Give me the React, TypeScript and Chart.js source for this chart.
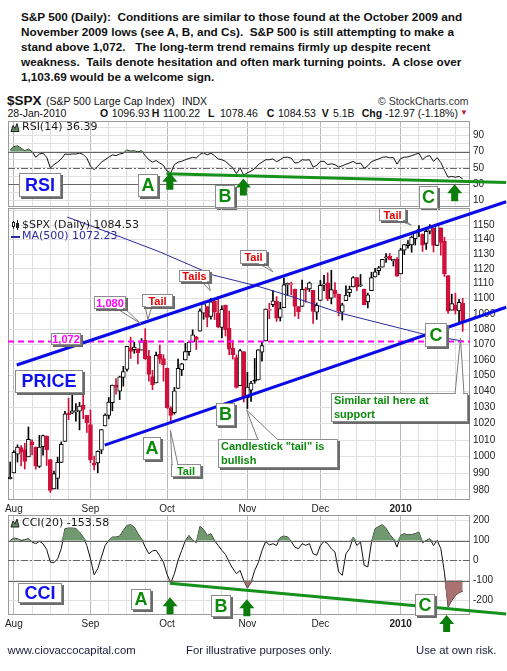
import React, { useEffect, useRef } from 'react';
import { Chart, registerables } from 'chart.js';

Chart.register(...registerables);

const SANS = '"Liberation Sans", Arial, Helvetica, sans-serif';
const DEJAVU = '"DejaVu Sans", Verdana, sans-serif';

const RED = '#d0103a';
const TXT_RED = '#e00000';
const GREEN = '#0b8a0b';
const LINE_GREEN = '#14921c';
const BLUE = '#1010f0';
const TREND_BLUE = '#0a0ae8';
const MAGENTA = '#ff00ff';
const MA_BLUE = '#2a2a9e';
const RSI_FILL = 'rgba(100,143,100,0.95)';
const CCI_UP_FILL = 'rgba(104,148,104,0.95)';
const CCI_DN_FILL = 'rgba(166,104,104,0.95)';

// ---------------- data ----------------
const dates: string[] = [
  '2009-07-31',
  '2009-08-03', '2009-08-04', '2009-08-05', '2009-08-06', '2009-08-07', '2009-08-10', '2009-08-11', '2009-08-12', '2009-08-13', '2009-08-14',
  '2009-08-17', '2009-08-18', '2009-08-19', '2009-08-20', '2009-08-21', '2009-08-24', '2009-08-25', '2009-08-26', '2009-08-27', '2009-08-28', '2009-08-31',
  '2009-09-01', '2009-09-02', '2009-09-03', '2009-09-04', '2009-09-08', '2009-09-09', '2009-09-10', '2009-09-11', '2009-09-14', '2009-09-15',
  '2009-09-16', '2009-09-17', '2009-09-18', '2009-09-21', '2009-09-22', '2009-09-23', '2009-09-24', '2009-09-25', '2009-09-28', '2009-09-29', '2009-09-30',
  '2009-10-01', '2009-10-02', '2009-10-05', '2009-10-06', '2009-10-07', '2009-10-08', '2009-10-09', '2009-10-12', '2009-10-13', '2009-10-14', '2009-10-15',
  '2009-10-16', '2009-10-19', '2009-10-20', '2009-10-21', '2009-10-22', '2009-10-23', '2009-10-26', '2009-10-27', '2009-10-28', '2009-10-29', '2009-10-30',
  '2009-11-02', '2009-11-03', '2009-11-04', '2009-11-05', '2009-11-06', '2009-11-09', '2009-11-10', '2009-11-11', '2009-11-12', '2009-11-13',
  '2009-11-16', '2009-11-17', '2009-11-18', '2009-11-19', '2009-11-20', '2009-11-23', '2009-11-24', '2009-11-25', '2009-11-27', '2009-11-30',
  '2009-12-01', '2009-12-02', '2009-12-03', '2009-12-04', '2009-12-07', '2009-12-08', '2009-12-09', '2009-12-10', '2009-12-11', '2009-12-14', '2009-12-15',
  '2009-12-16', '2009-12-17', '2009-12-18', '2009-12-21', '2009-12-22', '2009-12-23', '2009-12-24', '2009-12-28', '2009-12-29', '2009-12-30', '2009-12-31',
  '2010-01-04', '2010-01-05', '2010-01-06', '2010-01-07', '2010-01-08', '2010-01-11', '2010-01-12', '2010-01-13', '2010-01-14', '2010-01-15',
  '2010-01-19', '2010-01-20', '2010-01-21', '2010-01-22', '2010-01-25', '2010-01-26', '2010-01-27', '2010-01-28',
];

const opens: number[] = [
  986.8, 990.2, 1001.4, 1005.4, 1004.1, 999.8, 1008.9, 1005.8, 994.0, 1005.9,
  1012.2, 998.2, 980.6, 986.9, 996.4, 1009.1, 1026.6, 1026.6, 1027.4, 1027.8,
  1031.6, 1025.2, 1019.5, 996.1, 996.1, 1003.8, 1018.7, 1025.1, 1033.0, 1043.9,
  1040.2, 1049.0, 1054.0, 1067.9, 1066.6, 1067.1, 1066.4, 1072.7, 1062.6, 1049.5,
  1045.4, 1063.7, 1061.0, 1054.9, 1029.7, 1026.9, 1042.0, 1053.7, 1060.0, 1065.3,
  1071.6, 1075.0, 1078.7, 1090.4, 1094.7, 1088.2, 1098.6, 1090.4, 1081.0, 1095.6,
  1080.4, 1067.5, 1061.5, 1043.7, 1065.4, 1036.2, 1040.9, 1047.3, 1047.3, 1065.0,
  1072.3, 1092.2, 1096.0, 1098.3, 1087.6, 1094.1, 1109.2, 1109.4, 1106.4, 1094.7,
  1094.9, 1106.5, 1106.5, 1105.5, 1091.1, 1098.9, 1109.0, 1110.6, 1100.4, 1105.5,
  1103.0, 1091.1, 1098.7, 1104.0, 1107.8, 1114.1, 1108.6, 1106.4, 1097.9, 1105.3,
  1114.5, 1118.8, 1121.1, 1127.5, 1128.6, 1125.5, 1126.6, 1116.6, 1132.7, 1135.7,
  1136.3, 1140.5, 1146.0, 1143.8, 1137.3, 1145.7, 1147.7, 1136.0, 1148.0, 1138.7,
  1115.5, 1092.4, 1095.8, 1091.9, 1096.93,
];

const highs: number[] = [
  996.7, 1003.6, 1007.1, 1006.6, 1008.0, 1018.0, 1010.1, 1005.8, 1012.8, 1013.1,
  1012.6, 998.2, 991.2, 999.6, 1008.9, 1027.6, 1035.8, 1037.8, 1032.5, 1033.3,
  1039.5, 1025.2, 1028.5, 1000.3, 1003.4, 1016.5, 1026.1, 1036.3, 1044.1, 1048.2,
  1049.7, 1056.0, 1068.8, 1074.8, 1071.5, 1067.3, 1073.8, 1080.2, 1066.3, 1053.5,
  1065.1, 1069.6, 1063.4, 1054.9, 1030.6, 1042.6, 1060.6, 1058.0, 1070.7, 1071.5,
  1079.5, 1075.3, 1093.2, 1096.6, 1094.7, 1100.2, 1098.6, 1101.4, 1095.2, 1095.8,
  1091.8, 1072.5, 1063.3, 1066.8, 1065.4, 1052.2, 1046.4, 1061.0, 1066.7, 1071.5,
  1093.2, 1097.0, 1105.4, 1101.4, 1097.6, 1113.7, 1110.5, 1111.1, 1106.4, 1094.7,
  1112.4, 1107.6, 1111.2, 1105.5, 1097.2, 1112.3, 1115.6, 1117.3, 1119.1, 1110.7,
  1103.0, 1097.0, 1108.5, 1108.4, 1114.8, 1114.1, 1116.2, 1106.4, 1103.7, 1117.7,
  1120.3, 1121.6, 1126.5, 1130.4, 1130.4, 1126.4, 1127.6, 1133.9, 1136.6, 1139.2,
  1142.5, 1145.4, 1149.7, 1143.8, 1148.4, 1150.4, 1147.8, 1150.5, 1148.0, 1141.6,
  1115.5, 1103.0, 1103.7, 1099.5, 1100.22,
];

const lows: number[] = [
  986.5, 990.2, 996.7, 994.3, 992.5, 999.8, 1001.0, 992.4, 993.4, 1000.8,
  994.6, 978.5, 980.6, 980.6, 996.4, 1009.1, 1022.5, 1026.2, 1021.6, 1016.2,
  1023.1, 1014.6, 996.3, 992.0, 990.2, 1001.7, 1018.7, 1023.0, 1028.0, 1038.4,
  1035.0, 1043.4, 1052.9, 1061.0, 1064.3, 1057.5, 1066.4, 1060.4, 1046.5, 1041.2,
  1045.4, 1057.8, 1046.5, 1029.5, 1020.0, 1025.9, 1042.0, 1050.1, 1060.0, 1063.0,
  1071.6, 1066.7, 1078.7, 1086.4, 1081.5, 1086.5, 1086.2, 1080.8, 1074.3, 1075.5,
  1063.3, 1060.6, 1042.2, 1043.7, 1033.4, 1029.4, 1033.9, 1045.2, 1047.3, 1059.3,
  1072.3, 1086.8, 1094.7, 1085.0, 1085.3, 1094.1, 1102.2, 1102.7, 1088.4, 1086.8,
  1094.9, 1097.6, 1104.8, 1083.7, 1086.3, 1098.9, 1105.3, 1098.7, 1096.5, 1100.8,
  1088.6, 1085.9, 1098.7, 1101.3, 1107.8, 1105.4, 1108.0, 1095.9, 1093.9, 1105.3,
  1114.5, 1116.0, 1121.1, 1124.4, 1126.2, 1121.9, 1114.8, 1116.6, 1129.7, 1134.0,
  1131.3, 1136.2, 1142.0, 1131.8, 1133.2, 1143.8, 1131.4, 1135.8, 1129.3, 1114.8,
  1090.2, 1092.4, 1089.9, 1083.1, 1078.46,
];

const closes: number[] = [
  987.5, 1002.6, 1005.7, 1002.7, 997.1, 1010.5, 1007.1, 994.4, 1005.8, 1012.7,
  1004.1, 979.7, 989.7, 996.5, 1007.4, 1026.1, 1025.6, 1028.0, 1028.1, 1031.0,
  1028.9, 1020.6, 998.0, 994.8, 1003.2, 1016.4, 1025.4, 1033.4, 1044.1, 1042.7,
  1049.3, 1052.6, 1068.8, 1065.5, 1068.3, 1064.7, 1071.7, 1060.9, 1050.8, 1044.4,
  1063.0, 1060.6, 1057.1, 1029.9, 1025.2, 1040.5, 1054.7, 1057.6, 1065.5, 1071.5,
  1076.2, 1073.2, 1092.0, 1096.6, 1087.7, 1097.9, 1091.1, 1081.4, 1092.9, 1079.6,
  1067.0, 1063.4, 1042.6, 1066.1, 1036.2, 1042.9, 1045.4, 1046.5, 1066.6, 1069.3,
  1093.1, 1093.0, 1098.5, 1087.2, 1093.5, 1109.3, 1110.3, 1109.8, 1094.9, 1091.4,
  1106.2, 1105.7, 1110.6, 1091.5, 1095.6, 1108.9, 1109.2, 1099.9, 1106.0, 1103.3,
  1091.9, 1096.0, 1102.4, 1106.4, 1114.1, 1107.9, 1109.2, 1096.1, 1102.5, 1114.1,
  1118.0, 1120.6, 1126.5, 1127.8, 1126.2, 1126.4, 1115.1, 1133.0, 1136.5, 1137.1,
  1141.7, 1145.0, 1147.0, 1136.2, 1145.7, 1148.5, 1136.0, 1150.2, 1138.0, 1116.5,
  1091.8, 1096.8, 1092.2, 1097.5, 1084.53,
];

// MA(500) at a few x positions (trading-day index)
const maIdx: number[] = [15.6, 27.4, 41.1, 55.6, 67.6, 77.5, 90.4, 106.8, 114.2, 124];
const maVal: number[] = [1155.6, 1144.5, 1131.4, 1115.8, 1108.5, 1101.1, 1090.5, 1080.6, 1076.1, 1072.23];

const rsi14: number[] = [
  72, 76, 77, 74, 71, 73, 70, 63, 67, 68,
  63, 50, 54, 57, 61, 67, 66.5, 67, 67, 68,
  66.5, 62, 52, 48, 52, 57, 60, 63, 66, 65,
  67, 68, 72, 70.5, 71, 69.5, 71, 65, 60, 57,
  59, 56, 53, 46, 44, 54, 57, 58, 60, 61.5,
  63, 62, 66.5, 68.5, 66, 68, 65, 61, 60, 58,
  54, 50, 43, 50, 41, 44, 46, 49, 54, 57,
  60, 60, 61, 57.5, 60, 63, 63, 62, 56, 56.5,
  60, 59.5, 60, 51, 53, 58, 58, 54, 55, 54,
  51, 52.5, 54.5, 56, 58, 55, 56, 49.5, 52.5, 57.5,
  59.5, 61, 63, 63.5, 62.5, 62.5, 54.5, 61.5, 63, 63.5,
  65, 66.5, 68, 60, 64, 65, 58, 62.5, 56.5, 47,
  38.5, 39.5, 38.5, 39.5, 36.39,
];

const cci20: number[] = [
  100, 112, 109, 100, 104, 109, 92, 84, 96, 84,
  55, -8, -11, 9, 59, 159, 162, 162, 160, 142,
  117, 75, 8, -71, -41, 17, 75, 100, 117, 117,
  122, 150, 175, 179, 167, 134, 108, 67, 34, 48,
  51, 22, -8, -70, -112, -66, 1, 50, 100, 125,
  100, 90, 170, 155, 125, 134, 100, 75, 51, 30,
  -8, -40, -66, -50, -100, -138, -110, -50, -10, 50,
  95, 78, 84, 75, 115, 122, 118, 95, 67, 59,
  84, 76, 84, 34, 26, 75, 96, 84, 59, 42,
  -57, -74, 34, 59, 117, 75, 92, -24, -32, 92,
  159, 170, 179, 160, 130, 110, 67, 125, 134, 128,
  130, 134, 142, 89, 100, 109, 75, 100, 60, -60,
  -232, -200, -175, -160, -153.58,
];

const priceTicks: number[] = [980, 990, 1000, 1010, 1020, 1030, 1040, 1050, 1060, 1070, 1080, 1090, 1100, 1110, 1120, 1130, 1140, 1150, 1160];
const priceLabels: number[] = [980, 990, 1000, 1010, 1020, 1030, 1040, 1050, 1060, 1070, 1080, 1090, 1100, 1110, 1120, 1130, 1140, 1150];
const rsiTicks: number[] = [10, 20, 30, 40, 50, 60, 70, 80, 90, 100];
const rsiLabels: number[] = [10, 30, 50, 70, 90];
const cciTicks: number[] = [-200, -100, 0, 100, 200];
const supportLevel = 1072;
const rsiUpper = 70;
const cciUpper = 100;
const cciLower = -100;

// ---------------- axis helpers ----------------
const X_MIN = -0.6;
const X_MAX = 126;
const MONTHS = ['Jan', 'Feb', 'Mar', 'Apr', 'May', 'Jun', 'Jul', 'Aug', 'Sep', 'Oct', 'Nov', 'Dec'];
const monthStarts: number[] = [];
dates.forEach((d, i) => {
  if (i > 0 && d.slice(0, 7) !== dates[i - 1].slice(0, 7)) monthStarts.push(i);
});
const monthLabel = (i: number) => {
  const d = dates[i];
  const m = +d.slice(5, 7);
  return m === 1 ? d.slice(0, 4) : MONTHS[m - 1];
};
const gridIdx: number[] = [];
monthStarts.forEach((m, k) => {
  const next = k + 1 < monthStarts.length ? monthStarts[k + 1] : dates.length;
  for (let v = m; v <= next - 3; v += 5) gridIdx.push(v);
});

function xScale(showLabels: boolean, height: number): any {
  return {
    type: 'linear',
    min: X_MIN,
    max: X_MAX,
    offset: false,
    afterBuildTicks: (s: any) => { s.ticks = gridIdx.map((v) => ({ value: v })); },
    afterFit: (s: any) => { s.height = height; },
    grid: {
      offset: false,
      drawTicks: false,
      color: (c: any) => (c.tick && monthStarts.includes(c.tick.value) ? '#b9b9b9' : '#e0e0e0'),
      lineWidth: 1,
    },
    border: { display: false },
    ticks: {
      display: showLabels,
      autoSkip: false,
      maxRotation: 0,
      padding: 3,
      color: '#222',
      font: (c: any) => ({
        family: SANS,
        size: 10,
        weight: c.tick && monthStarts.includes(c.tick.value) && monthLabel(c.tick.value) === '2010' ? 'bold' : 'normal',
      }),
      callback: (v: number) => (monthStarts.includes(v) ? monthLabel(v) : ''),
    },
  };
}

function yScale(type: string, min: number, max: number, ticks: number[], labels: number[]): any {
  return {
    type,
    position: 'right',
    min,
    max,
    afterBuildTicks: (s: any) => { s.ticks = ticks.map((v) => ({ value: v })); },
    afterFit: (s: any) => { s.width = 37; },
    grid: { drawTicks: false, color: '#e0e0e0' },
    border: { display: false },
    ticks: {
      autoSkip: false,
      padding: 3,
      color: '#222',
      font: { family: SANS, size: 10 },
      callback: (v: number) => (labels.includes(v) ? String(v) : ''),
    },
  };
}

// ---------------- drawing helpers ----------------
function P(chart: any, idx: number, val: number) {
  return { x: chart.scales.x.getPixelForValue(idx), y: chart.scales.y.getPixelForValue(val) };
}

function drawBox(ctx: any, x: number, y: number, w: number, h: number) {
  const rx = Math.round(x), ry = Math.round(y), rw = Math.round(w), rh = Math.round(h);
  ctx.fillStyle = '#6b6b6b';
  ctx.fillRect(rx + 2, ry + 2, rw, rh);
  ctx.fillStyle = '#ffffff';
  ctx.fillRect(rx, ry, rw, rh);
  ctx.strokeStyle = '#8c8c8c';
  ctx.lineWidth = 1;
  ctx.strokeRect(rx + 0.5, ry + 0.5, rw - 1, rh - 1);
}

function drawLabelBox(ctx: any, x: number, y: number, w: number, h: number, lines: string[], color: string, font: string, align: string) {
  drawBox(ctx, x, y, w, h);
  ctx.fillStyle = color;
  ctx.font = font;
  ctx.textBaseline = 'middle';
  if (lines.length === 1 && align === 'center') {
    ctx.textAlign = 'center';
    ctx.fillText(lines[0], Math.round(x) + w / 2, Math.round(y) + h / 2 + 1);
  } else {
    ctx.textAlign = 'left';
    const lh = 13.5;
    const top = Math.round(y) + h / 2 - (lh * lines.length) / 2 + lh / 2 + 0.5;
    lines.forEach((t, i) => ctx.fillText(t, Math.round(x) + 3, top + i * lh));
  }
}

function drawArrow(ctx: any, cx: number, tipY: number, color: string) {
  const hw = 7.5, hh = 9, sw = 3.5, len = 17;
  ctx.fillStyle = color;
  ctx.beginPath();
  ctx.moveTo(cx, tipY);
  ctx.lineTo(cx + hw, tipY + hh);
  ctx.lineTo(cx + sw, tipY + hh);
  ctx.lineTo(cx + sw, tipY + len);
  ctx.lineTo(cx - sw, tipY + len);
  ctx.lineTo(cx - sw, tipY + hh);
  ctx.lineTo(cx - hw, tipY + hh);
  ctx.closePath();
  ctx.fill();
}

function drawSeg(ctx: any, a: any, b: any, color: string, width: number, dash: number[] = []) {
  ctx.save();
  ctx.strokeStyle = color;
  ctx.lineWidth = width;
  ctx.setLineDash(dash);
  ctx.beginPath();
  ctx.moveTo(a.x, a.y);
  ctx.lineTo(b.x, b.y);
  ctx.stroke();
  ctx.restore();
}

function drawMountainIcon(ctx: any, x: number, y: number) {
  ctx.fillStyle = '#5f8a5f';
  ctx.strokeStyle = '#222';
  ctx.lineWidth = 1;
  ctx.beginPath();
  ctx.moveTo(x, y + 4);
  ctx.lineTo(x + 2, y - 2);
  ctx.lineTo(x + 4, y + 1);
  ctx.lineTo(x + 6, y - 4);
  ctx.lineTo(x + 8, y + 4);
  ctx.closePath();
  ctx.fill();
  ctx.stroke();
}

const framePlugin: any = {
  id: 'frame',
  beforeDatasetsDraw(chart: any) {
    const { ctx, chartArea: a } = chart;
    ctx.save();
    ctx.strokeStyle = '#9a9a9a';
    ctx.lineWidth = 1;
    ctx.strokeRect(Math.round(a.left) + 0.5, Math.round(a.top) + 0.5, Math.round(a.right - a.left) - 1, Math.round(a.bottom - a.top) - 1);
    ctx.restore();
  },
};

function refLinePlugin(levels: { v: number; dash: number[] }[]): any {
  return {
    id: 'reflines',
    afterDatasetsDraw(chart: any) {
      const { ctx, chartArea: a } = chart;
      levels.forEach((l) => {
        const y = Math.round(chart.scales.y.getPixelForValue(l.v)) + 0.5;
        drawSeg(ctx, { x: a.left, y }, { x: a.right, y }, '#666666', 1, l.dash);
      });
    },
  };
}

// ---------------- annotations ----------------
const LETTER_FONT = `bold 18px ${SANS}`;
const NOTE_FONT = `bold 11px ${SANS}`;

const rsiTrend = { from: [42.8, 42.75], to: [135.9, 32.0] };
const rsiBoxes = [
  { lines: ['RSI'], idx: 2.4, val: 43.95, w: 42, h: 24, color: BLUE },
  { lines: ['A'], idx: 35.0, val: 41.9, w: 20, h: 23, color: GREEN },
  { lines: ['B'], idx: 56.0, val: 29.2, w: 20, h: 23, color: GREEN },
  { lines: ['C'], idx: 111.9, val: 27.8, w: 19, h: 23, color: GREEN },
];
const rsiArrows = [
  { idx: 43.75, val: 44.0 },
  { idx: 63.9, val: 37.1 },
  { idx: 121.8, val: 29.9 },
];

const cciTrend = { from: [43.7, -114], to: [135.9, -267.5] };
const cciBoxes = [
  { lines: ['CCI'], idx: 2.1, val: -111, w: 44, h: 20, color: BLUE },
  { lines: ['A'], idx: 33.0, val: -144, w: 20, h: 21, color: GREEN },
  { lines: ['B'], idx: 54.9, val: -172.5, w: 20, h: 22, color: GREEN },
  { lines: ['C'], idx: 110.8, val: -167.5, w: 20, h: 22, color: GREEN },
];
const cciArrows = [
  { idx: 43.8, val: -184 },
  { idx: 64.85, val: -194 },
  { idx: 119.6, val: -272.5 },
];

const upperChannel = { from: [1.8, 1056.8], to: [135.9, 1166.3] };
const lowerChannel = { from: [25.9, 1006.9], to: [135.9, 1094.3] };
const priceBoxes = [
  { lines: ['PRICE'], idx: 1.2, val: 1053.6, w: 68, h: 23, color: BLUE, font: LETTER_FONT },
  { lines: ['A'], idx: 36.4, val: 1011.9, w: 18, h: 23, color: GREEN, font: LETTER_FONT },
  { lines: ['B'], idx: 56.3, val: 1033.0, w: 19, h: 23, color: GREEN, font: LETTER_FONT },
  { lines: ['C'], idx: 113.75, val: 1084.1, w: 22, h: 24, color: GREEN, font: LETTER_FONT },
  { lines: ['1,072'], idx: 11.3, val: 1077.2, w: 30, h: 12, color: MAGENTA, font: NOTE_FONT },
];
const priceCallouts = [
  { lines: ['1,080'], color: MAGENTA, tipIdx: 35.9, tipVal: 1083.3, dx: -46.7, dy: -28, w: 32, h: 13, edge: 'bottom', b1: 22, b2: 30 },
  { lines: ['Tail'], color: TXT_RED, tipIdx: 37.75, tipVal: 1086.3, dx: -5.6, dy: -25, w: 31, h: 13, edge: 'bottom', b1: 3, b2: 10 },
  { lines: ['Tails'], color: TXT_RED, tipIdx: 54.85, tipVal: 1105.3, dx: -31.7, dy: -20.7, w: 31, h: 12, edge: 'bottom', b1: 22, b2: 29 },
  { lines: ['Tail'], color: TXT_RED, tipIdx: 72.0, tipVal: 1118.0, dx: -32.6, dy: -21.7, w: 27, h: 14, edge: 'bottom', b1: 18, b2: 25 },
  { lines: ['Tail'], color: TXT_RED, tipIdx: 109.9, tipVal: 1150, dx: -32.4, dy: -16.7, w: 27, h: 13, edge: 'bottom', b1: 18, b2: 25 },
  { lines: ['Similar tail here at', 'support'], color: GREEN, tipIdx: 123.4, tipVal: 1074.1, dx: -129.3, dy: 55.3, w: 137, h: 29, edge: 'top', b1: 124, b2: 133 },
  { lines: ['Candlestick "tail" is', 'bullish'], color: GREEN, tipIdx: 64.8, tipVal: 1028.4, dx: -28.7, dy: 29.3, w: 120, h: 29, edge: 'top', b1: 40, b2: 60 },
  { lines: ['Tail'], color: GREEN, tipIdx: 43.9, tipVal: 1015.9, dx: 1, dy: 33.3, w: 30, h: 13, edge: 'top', b1: 1, b2: 7 },
];

function panelAnnotPlugin(trend: any, boxes: any[], arrows: any[], legend: string, legendDy: number): any {
  return {
    id: 'panelAnnot',
    afterDraw(chart: any) {
      const { ctx, chartArea: a } = chart;
      ctx.save();
      drawMountainIcon(ctx, a.left + 3, a.top + legendDy);
      ctx.fillStyle = '#1a1a1a';
      ctx.font = `11px ${DEJAVU}`;
      ctx.textAlign = 'left';
      ctx.textBaseline = 'middle';
      ctx.fillText(legend, a.left + 14, a.top + legendDy);
      drawSeg(ctx, P(chart, trend.from[0], trend.from[1]), P(chart, trend.to[0], trend.to[1]), LINE_GREEN, 3);
      boxes.forEach((b) => {
        const p = P(chart, b.idx, b.val);
        drawLabelBox(ctx, p.x, p.y, b.w, b.h, b.lines, b.color, LETTER_FONT, 'center');
      });
      arrows.forEach((r) => {
        const p = P(chart, r.idx, r.val);
        drawArrow(ctx, p.x, p.y, '#0a7d0a');
      });
      ctx.restore();
    },
  };
}

const priceAnnotPlugin: any = {
  id: 'priceAnnot',
  afterDraw(chart: any) {
    const { ctx, chartArea: a } = chart;
    ctx.save();
    ctx.fillStyle = '#1a1a1a';
    ctx.font = `11px ${DEJAVU}`;
    ctx.textAlign = 'left';
    ctx.textBaseline = 'middle';
    ctx.fillText('$SPX (Daily) 1084.53', a.left + 14, a.top + 17);
    ctx.strokeStyle = '#222';
    ctx.lineWidth = 1;
    ctx.beginPath();
    ctx.moveTo(a.left + 5.5, a.top + 13); ctx.lineTo(a.left + 5.5, a.top + 21);
    ctx.moveTo(a.left + 9.5, a.top + 12); ctx.lineTo(a.left + 9.5, a.top + 22);
    ctx.stroke();
    ctx.fillStyle = '#fff';
    ctx.fillRect(a.left + 4, a.top + 14, 3, 5);
    ctx.strokeRect(a.left + 4.5, a.top + 14.5, 2, 4);
    ctx.fillStyle = '#222';
    ctx.fillRect(a.left + 8, a.top + 15, 3, 5);
    ctx.fillStyle = MA_BLUE;
    ctx.fillRect(a.left + 3, a.top + 28, 9, 2);
    ctx.fillText('MA(500) 1072.23', a.left + 14, a.top + 28.5);

    const ly = chart.scales.y.getPixelForValue(supportLevel);
    drawSeg(ctx, { x: a.left, y: ly }, { x: a.right, y: ly }, MAGENTA, 2, [6, 4]);
    drawSeg(ctx, P(chart, upperChannel.from[0], upperChannel.from[1]), P(chart, upperChannel.to[0], upperChannel.to[1]), TREND_BLUE, 3);
    drawSeg(ctx, P(chart, lowerChannel.from[0], lowerChannel.from[1]), P(chart, lowerChannel.to[0], lowerChannel.to[1]), TREND_BLUE, 3);

    priceCallouts.forEach((c) => {
      const t = P(chart, c.tipIdx, c.tipVal);
      const bx = Math.round(t.x + c.dx);
      const by = Math.round(t.y + c.dy);
      const ey = c.edge === 'bottom' ? by + c.h - 1 : by + 1;
      ctx.fillStyle = '#ffffff';
      ctx.strokeStyle = '#7a7a7a';
      ctx.lineWidth = 1;
      ctx.beginPath();
      ctx.moveTo(bx + c.b1, ey);
      ctx.lineTo(t.x, t.y);
      ctx.lineTo(bx + c.b2, ey);
      ctx.closePath();
      ctx.fill();
      ctx.stroke();
      drawLabelBox(ctx, bx, by, c.w, c.h, c.lines, c.color, NOTE_FONT, c.lines.length === 1 ? 'center' : 'left');
      ctx.fillStyle = '#ffffff';
      ctx.fillRect(bx + c.b1 + 1, c.edge === 'bottom' ? by + c.h - 1.5 : by, c.b2 - c.b1 - 2, 1.5);
    });
    priceBoxes.forEach((b) => {
      const p = P(chart, b.idx, b.val);
      drawLabelBox(ctx, p.x, p.y, b.w, b.h, b.lines, b.color, b.font, 'center');
    });
    ctx.restore();
  },
};

// ---------------- chart configs ----------------
function basicOptions(padTop: number, padBottom: number, x: any, y: any): any {
  return {
    responsive: false,
    animation: false,
    devicePixelRatio: 1,
    events: [],
    layout: { padding: { left: 8, right: 0, top: padTop, bottom: padBottom } },
    plugins: { legend: { display: false }, tooltip: { enabled: false } },
    scales: { x, y },
  };
}

// shading band: the series clipped at a level, filled back to that level
function band(values: number[], level: number, upper: boolean, color: string): any {
  return {
    data: values.map((v, i) => ({ x: i, y: upper ? Math.max(v, level) : Math.min(v, level) })),
    borderColor: 'rgba(0,0,0,0)',
    borderWidth: 0,
    pointRadius: 0,
    tension: 0,
    backgroundColor: color,
    fill: { value: level },
  };
}

function rsiConfig(): any {
  return {
    type: 'line',
    data: {
      datasets: [
        band(rsi14, rsiUpper, true, RSI_FILL),
        { data: rsi14.map((v, i) => ({ x: i, y: v })), borderColor: '#111', borderWidth: 1, pointRadius: 0, tension: 0, fill: false },
      ],
    },
    options: basicOptions(8, 8, xScale(false, 0), yScale('linear', 2, 107.5, rsiTicks, rsiLabels)),
    plugins: [framePlugin, refLinePlugin([{ v: 70, dash: [] }, { v: 50, dash: [7, 2, 2, 2] }, { v: 30, dash: [] }]), panelAnnotPlugin(rsiTrend, rsiBoxes, rsiArrows, 'RSI(14) 36.39', 6.5)],
  };
}

function cciConfig(): any {
  return {
    type: 'line',
    data: {
      datasets: [
        band(cci20, cciUpper, true, CCI_UP_FILL),
        band(cci20, cciLower, false, CCI_DN_FILL),
        { data: cci20.map((v, i) => ({ x: i, y: v })), borderColor: '#111', borderWidth: 1, pointRadius: 0, tension: 0, fill: false },
      ],
    },
    options: basicOptions(10, 6, xScale(true, 15), yScale('linear', -272.5, 227.5, cciTicks, cciTicks)),
    plugins: [framePlugin, refLinePlugin([{ v: 100, dash: [] }, { v: 0, dash: [7, 2, 2, 2] }, { v: -100, dash: [] }]), panelAnnotPlugin(cciTrend, cciBoxes, cciArrows, 'CCI(20) -153.58', 8)],
  };
}

function priceConfig(): any {
  const colors = closes.map((c, i) => ((i === 0 ? c >= opens[i] : c >= closes[i - 1]) ? '#000000' : RED));
  const fills = closes.map((c, i) => (c < opens[i] ? colors[i] : '#ffffff'));
  return {
    type: 'bar',
    data: {
      datasets: [
        {
          type: 'bar',
          data: closes.map((_, i) => ({ x: i, y: [lows[i], highs[i]] })),
          backgroundColor: colors,
          borderWidth: 0,
          barThickness: 1,
          grouped: false,
          order: 3,
        },
        {
          type: 'bar',
          data: closes.map((c, i) => ({ x: i, y: [Math.min(opens[i], c), Math.max(opens[i], c)] })),
          backgroundColor: fills,
          borderColor: colors,
          borderWidth: 1,
          borderSkipped: false,
          barThickness: 4,
          minBarLength: 1,
          grouped: false,
          order: 2,
        },
        {
          type: 'line',
          data: maIdx.map((x, i) => ({ x, y: maVal[i] })),
          borderColor: MA_BLUE,
          borderWidth: 1,
          pointRadius: 0,
          tension: 0,
          fill: false,
          order: 1,
        },
      ],
    },
    options: basicOptions(18, 0, xScale(true, 15), yScale('logarithmic', 974.1, 1161.9, priceTicks, priceLabels)),
    plugins: [framePlugin, priceAnnotPlugin],
  };
}

// ---------------- component ----------------
const headerLines = [
  'S&P 500 (Daily):  Conditions are similar to those found at the October 2009 and',
  'November 2009 lows (see A, B, and Cs).  S&P 500 is still attempting to make a',
  'stand above 1,072.   The long-term trend remains firmly up despite recent',
  'weakness.  Tails denote hesitation and often mark turning points.  A close over',
  '1,103.69 would be a welcome sign.',
];

const quoteItems: { t: string; x: number; bold?: boolean }[] = [
  { t: 'O', x: 100, bold: true }, { t: '1096.93', x: 111.7 },
  { t: 'H', x: 151.7, bold: true }, { t: '1100.22', x: 163 },
  { t: 'L', x: 208, bold: true }, { t: '1078.46', x: 220 },
  { t: 'C', x: 266.7, bold: true }, { t: '1084.53', x: 278 },
  { t: 'V', x: 321.7, bold: true }, { t: '5.1B', x: 333 },
  { t: 'Chg', x: 361.7, bold: true }, { t: '-12.97 (-1.18%)', x: 385 },
];

export default function App() {
  const rsiRef = useRef<HTMLCanvasElement>(null);
  const priceRef = useRef<HTMLCanvasElement>(null);
  const cciRef = useRef<HTMLCanvasElement>(null);

  useEffect(() => {
    const charts = [
      new Chart(rsiRef.current as any, rsiConfig()),
      new Chart(priceRef.current as any, priceConfig()),
      new Chart(cciRef.current as any, cciConfig()),
    ];
    return () => charts.forEach((c) => c.destroy());
  }, []);

  const abs = (left: number, top: number, extra: any = {}): any => ({
    position: 'absolute', left, top, whiteSpace: 'pre', fontFamily: SANS, color: '#111', ...extra,
  });

  return (
    <div style={{ position: 'absolute', left: 0, top: 0, width: 507, height: 671, background: '#fff', overflow: 'hidden' }}>
      <div style={abs(21, 8.5, { fontSize: 11.75, fontWeight: 'bold', lineHeight: '15px' })}>
        {headerLines.map((l, i) => (<div key={i}>{l}</div>))}
      </div>

      <div style={abs(7, 92, { fontSize: 13.5, fontWeight: 'bold', lineHeight: '17px' })}>$SPX</div>
      <div style={abs(46, 94.5, { fontSize: 10.5, lineHeight: '12px' })}>(S&amp;P 500 Large Cap Index)</div>
      <div style={abs(182, 94.5, { fontSize: 10.5, lineHeight: '12px' })}>INDX</div>
      <div style={abs(378, 94.5, { fontSize: 10.5, lineHeight: '12px', color: '#333' })}>© StockCharts.com</div>

      <div style={abs(7.5, 107, { fontSize: 10.5, lineHeight: '12px' })}>28-Jan-2010</div>
      {quoteItems.map((q, i) => (
        <div key={i} style={abs(q.x, 107, { fontSize: 10.5, lineHeight: '12px', fontWeight: q.bold ? 'bold' : 'normal' })}>{q.t}</div>
      ))}
      <div style={abs(460, 107, { fontSize: 8, lineHeight: '12px', color: '#c0143c' })}>▼</div>

      <canvas ref={rsiRef} width={507} height={104} style={{ position: 'absolute', left: 0, top: 112, display: 'block' }} />
      <canvas ref={priceRef} width={507} height={325} style={{ position: 'absolute', left: 0, top: 190, display: 'block' }} />
      <canvas ref={cciRef} width={507} height={131} style={{ position: 'absolute', left: 0, top: 505, display: 'block' }} />

      <div style={abs(7.5, 643, { fontSize: 11.3, lineHeight: '14px', color: '#1a1a3a' })}>www.ciovaccocapital.com</div>
      <div style={abs(186, 643, { fontSize: 11.3, lineHeight: '14px', color: '#1a1a3a' })}>For illustrative purposes only.</div>
      <div style={abs(416, 643, { fontSize: 11.3, lineHeight: '14px', color: '#1a1a3a' })}>Use at own risk.</div>
    </div>
  );
}
